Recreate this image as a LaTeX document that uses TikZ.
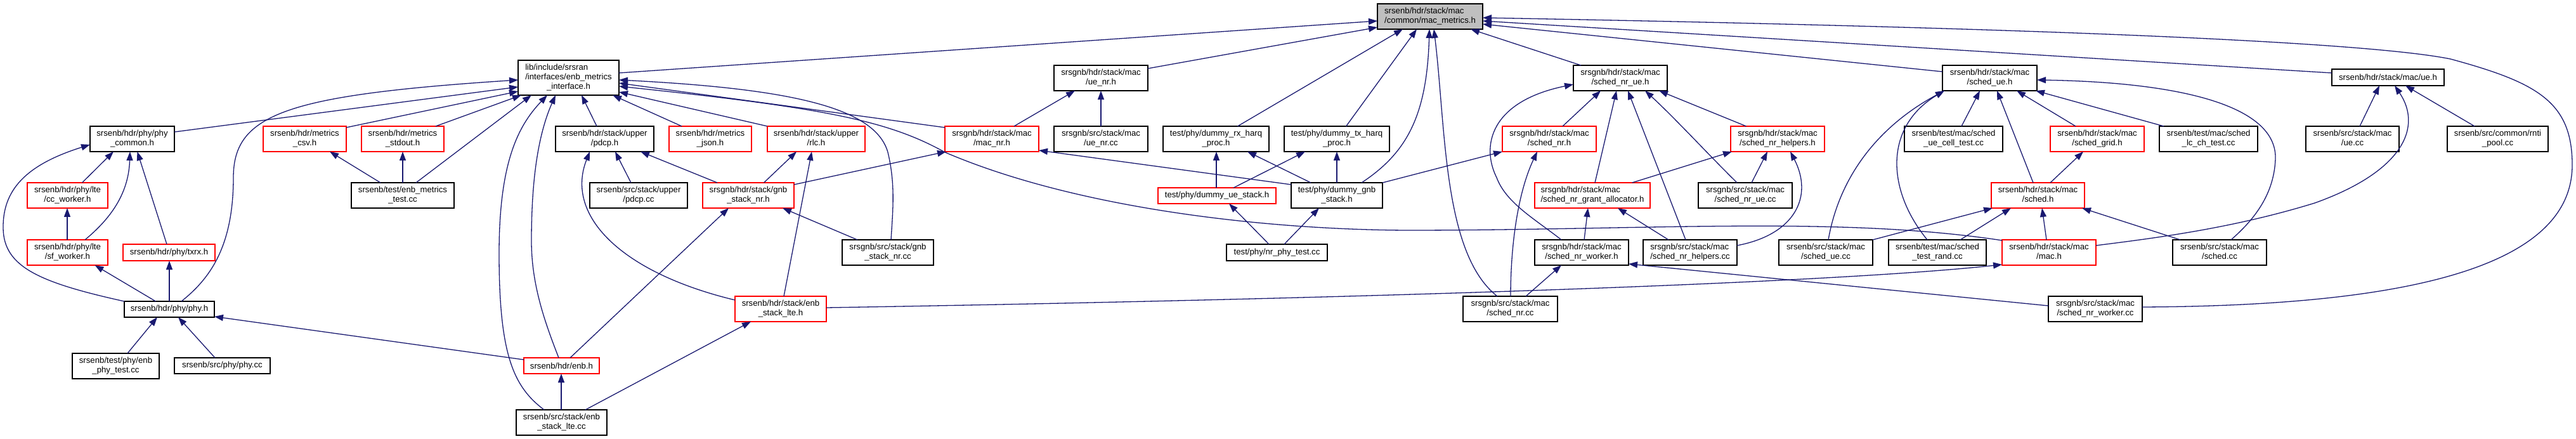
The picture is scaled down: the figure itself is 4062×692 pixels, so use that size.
\documentclass[tikz,border=0pt]{standalone}
\usepackage{fontspec}
\setmainfont{Liberation Sans}
\usetikzlibrary{arrows.meta}
\definecolor{edgeblue}{RGB}{25,25,112}
\definecolor{boxred}{RGB}{255,0,0}
\definecolor{rootgray}{RGB}{191,191,191}
\newcommand\twol[2]{\begin{tabular}{@{}l@{}}#1\\\multicolumn{1}{@{}c@{}}{#2}\end{tabular}}
\tikzset{
  box/.style={draw=black, fill=white, line width=1.6pt, rectangle, inner sep=0pt, outer sep=0pt, font=\fontsize{13.2}{15}\selectfont, text=black},
  redbox/.style={box, draw=boxred},
  rootbox/.style={box, fill=rootgray},
  dep/.style={draw=edgeblue, color=edgeblue, line width=1.3pt, {Triangle[length=14pt,width=10pt]}-},
}
\begin{document}
\begin{tikzpicture}[x=1pt,y=-1pt]
\fill[white] (0,0) rectangle (4062,692);
\useasboundingbox (0,0) rectangle (4062,692);
% row 0
\node[rootbox,minimum width=166pt,minimum height=40pt] (R) at (2255,26) {\twol{srsenb/hdr/stack/mac}{/common/mac\_metrics.h}};
% row 1
\node[box,minimum width=159pt,minimum height=55pt] (EMI) at (896.5,122.5) {\begin{tabular}{@{}l@{}}lib/include/srsran\\/interfaces/enb\_metrics\\\multicolumn{1}{@{}c@{}}{\_interface.h}\end{tabular}};
\node[box,minimum width=148pt,minimum height=40pt] (uenrh) at (1736,123) {\twol{srsgnb/hdr/stack/mac}{/ue\_nr.h}};
\node[box,minimum width=148pt,minimum height=40pt] (schednrueh) at (2555,123) {\twol{srsgnb/hdr/stack/mac}{/sched\_nr\_ue.h}};
\node[box,minimum width=149pt,minimum height=40pt] (schedueh) at (3137.5,123) {\twol{srsenb/hdr/stack/mac}{/sched\_ue.h}};
\node[box,minimum width=177pt,minimum height=26pt] (ueh) at (3765.5,122) {srsenb/hdr/stack/mac/ue.h};
% row 2
\node[box,minimum width=133pt,minimum height=40pt] (phycommon) at (208.5,219) {\twol{srsenb/hdr/phy/phy}{\_common.h}};
\node[redbox,minimum width=131pt,minimum height=40pt] (csv) at (480.5,219) {\twol{srsenb/hdr/metrics}{\_csv.h}};
\node[redbox,minimum width=130pt,minimum height=40pt] (stdout) at (635,219) {\twol{srsenb/hdr/metrics}{\_stdout.h}};
\node[box,minimum width=155pt,minimum height=40pt] (pdcph) at (953.5,219) {\twol{srsenb/hdr/stack/upper}{/pdcp.h}};
\node[redbox,minimum width=130pt,minimum height=40pt] (json) at (1120,219) {\twol{srsenb/hdr/metrics}{\_json.h}};
\node[redbox,minimum width=154pt,minimum height=40pt] (rlch) at (1287,219) {\twol{srsenb/hdr/stack/upper}{/rlc.h}};
\node[redbox,minimum width=148pt,minimum height=40pt] (macnrh) at (1564,219) {\twol{srsgnb/hdr/stack/mac}{/mac\_nr.h}};
\node[box,minimum width=148pt,minimum height=40pt] (uenrcc) at (1736,219) {\twol{srsgnb/src/stack/mac}{/ue\_nr.cc}};
\node[box,minimum width=167pt,minimum height=40pt] (rxharq) at (1917.5,219) {\twol{test/phy/dummy\_rx\_harq}{\_proc.h}};
\node[box,minimum width=166pt,minimum height=40pt] (txharq) at (2108,219) {\twol{test/phy/dummy\_tx\_harq}{\_proc.h}};
\node[redbox,minimum width=148pt,minimum height=40pt] (schednrh) at (2443,219) {\twol{srsgnb/hdr/stack/mac}{/sched\_nr.h}};
\node[redbox,minimum width=148pt,minimum height=40pt] (helpersh) at (2803,219) {\twol{srsgnb/hdr/stack/mac}{/sched\_nr\_helpers.h}};
\node[box,minimum width=155pt,minimum height=40pt] (celltest) at (3080.5,219) {\twol{srsenb/test/mac/sched}{\_ue\_cell\_test.cc}};
\node[redbox,minimum width=148pt,minimum height=40pt] (gridh) at (3307,219) {\twol{srsenb/hdr/stack/mac}{/sched\_grid.h}};
\node[box,minimum width=155pt,minimum height=40pt] (lcch) at (3482.5,219) {\twol{srsenb/test/mac/sched}{\_lc\_ch\_test.cc}};
\node[box,minimum width=147pt,minimum height=40pt] (uecc) at (3709.5,219) {\twol{srsenb/src/stack/mac}{/ue.cc}};
\node[box,minimum width=159pt,minimum height=40pt] (rnti) at (3938.5,219) {\twol{srsenb/src/common/rnti}{\_pool.cc}};
% row 3
\node[redbox,minimum width=127pt,minimum height=40pt] (ccworker) at (106.5,308) {\twol{srsenb/hdr/phy/lte}{/cc\_worker.h}};
\node[box,minimum width=162pt,minimum height=40pt] (metricstest) at (635,308) {\twol{srsenb/test/enb\_metrics}{\_test.cc}};
\node[box,minimum width=154pt,minimum height=40pt] (pdcpcc) at (1007,308) {\twol{srsenb/src/stack/upper}{/pdcp.cc}};
\node[redbox,minimum width=144pt,minimum height=40pt] (gnbstackh) at (1180,308) {\twol{srsgnb/hdr/stack/gnb}{\_stack\_nr.h}};
\node[redbox,minimum width=186pt,minimum height=25pt] (dummyue) at (1919,308.5) {test/phy/dummy\_ue\_stack.h};
\node[box,minimum width=144pt,minimum height=40pt] (dummygnb) at (2108,308) {\twol{test/phy/dummy\_gnb}{\_stack.h}};
\node[redbox,minimum width=182pt,minimum height=40pt] (grantalloc) at (2511,308) {\twol{srsgnb/hdr/stack/mac}{/sched\_nr\_grant\_allocator.h}};
\node[box,minimum width=148pt,minimum height=40pt] (schednruecc) at (2752,308) {\twol{srsgnb/src/stack/mac}{/sched\_nr\_ue.cc}};
\node[redbox,minimum width=147pt,minimum height=40pt] (schedh) at (3213.5,308) {\twol{srsenb/hdr/stack/mac}{/sched.h}};
% row 4
\node[redbox,minimum width=127pt,minimum height=40pt] (sfworker) at (106.5,398) {\twol{srsenb/hdr/phy/lte}{/sf\_worker.h}};
\node[redbox,minimum width=145pt,minimum height=26pt] (txrx) at (266.5,398) {srsenb/hdr/phy/txrx.h};
\node[box,minimum width=144pt,minimum height=40pt] (gnbstackcc) at (1400,398) {\twol{srsgnb/src/stack/gnb}{\_stack\_nr.cc}};
\node[box,minimum width=159pt,minimum height=26pt] (nrphytest) at (2013.5,398) {test/phy/nr\_phy\_test.cc};
\node[box,minimum width=148pt,minimum height=40pt] (workerh) at (2494,398) {\twol{srsgnb/hdr/stack/mac}{/sched\_nr\_worker.h}};
\node[box,minimum width=148pt,minimum height=40pt] (helperscc) at (2665,398) {\twol{srsgnb/src/stack/mac}{/sched\_nr\_helpers.cc}};
\node[box,minimum width=148pt,minimum height=40pt] (schedue) at (2879,398) {\twol{srsenb/src/stack/mac}{/sched\_ue.cc}};
\node[box,minimum width=154pt,minimum height=40pt] (testrand) at (3055,398) {\twol{srsenb/test/mac/sched}{\_test\_rand.cc}};
\node[redbox,minimum width=148pt,minimum height=40pt] (mach) at (3231,398) {\twol{srsenb/hdr/stack/mac}{/mac.h}};
\node[box,minimum width=148pt,minimum height=40pt] (schedcc) at (3500,398) {\twol{srsenb/src/stack/mac}{/sched.cc}};
% row 5
\node[box,minimum width=142pt,minimum height=25pt] (phyh) at (267,487.5) {srsenb/hdr/phy/phy.h};
\node[redbox,minimum width=144pt,minimum height=40pt] (enbstacklteh) at (1231,487) {\twol{srsenb/hdr/stack/enb}{\_stack\_lte.h}};
\node[box,minimum width=149pt,minimum height=40pt] (schednrcc) at (2381.5,487) {\twol{srsgnb/src/stack/mac}{/sched\_nr.cc}};
\node[box,minimum width=148pt,minimum height=40pt] (workercc) at (3304,487) {\twol{srsgnb/src/stack/mac}{/sched\_nr\_worker.cc}};
% row 6
\node[box,minimum width=137pt,minimum height=40pt] (enbphytest) at (182.5,577) {\twol{srsenb/test/phy/enb}{\_phy\_test.cc}};
\node[box,minimum width=151pt,minimum height=25pt] (phycc) at (350.5,576.5) {srsenb/src/phy/phy.cc};
\node[redbox,minimum width=119pt,minimum height=25pt] (enbh) at (885.5,576.5) {srsenb/hdr/enb.h};
% row 7
\node[box,minimum width=143pt,minimum height=40pt] (enbltecc) at (885.5,666) {\twol{srsenb/src/stack/enb}{\_stack\_lte.cc}};

% ---- edges (arrow at the included file)
\draw[dep] ([yshift=-27pt]R.north west) -- ([xshift=159pt,yshift=-20pt]EMI.north west);
\draw[dep] ([yshift=-37pt]R.north west) -- ([xshift=148pt,yshift=-5pt]uenrh.north west);
\draw[dep] ([xshift=40pt,yshift=-40pt]R.north west) -- ([xshift=117.5pt]rxharq.north west);
\draw[dep] ([xshift=62pt,yshift=-40pt]R.north west) -- ([xshift=97.6pt]txharq.north west);
\draw[dep] ([xshift=82pt,yshift=-40pt]R.north west) .. controls (2250,180) and (2220,240) .. ([xshift=111pt]dummygnb.north west);
\draw[dep] ([xshift=89pt,yshift=-40pt]R.north west) .. controls (2280,200) and (2275,400) .. ([xshift=54pt]schednrcc.north west);
\draw[dep] ([xshift=147pt,yshift=-40pt]R.north west) -- ([xshift=12pt]schednrueh.north west);
\draw[dep] ([xshift=166pt,yshift=-22pt]R.north west) .. controls (3000,40) and (3700,60) .. (3864,93) .. controls (4000,130) and (4056,160) .. (4056,260) .. controls (4056,420) and (3800,482) .. ([xshift=148pt,yshift=-17pt]workercc.north west);
\draw[dep] ([xshift=166pt,yshift=-27pt]R.north west) -- ([yshift=-6pt]ueh.north west);
\draw[dep] ([xshift=166pt,yshift=-32pt]R.north west) -- ([yshift=-10pt]schedueh.north west);

\draw[dep] ([yshift=-31pt]EMI.north west) .. controls (450,150) and (368,180) .. (368,280) .. controls (368,390) and (330,440) .. ([xshift=90pt]phyh.north west);
\draw[dep] ([yshift=-42pt]EMI.north west) -- ([xshift=133pt,yshift=-9pt]phycommon.north west);
\draw[dep] ([yshift=-49pt]EMI.north west) -- ([xshift=131pt,yshift=-2pt]csv.north west);
\draw[dep] ([xshift=5pt,yshift=-55pt]EMI.north west) -- ([xshift=117pt]stdout.north west);
\draw[dep] ([xshift=21pt,yshift=-55pt]EMI.north west) -- ([xshift=102pt]metricstest.north west);
\draw[dep] ([xshift=46pt,yshift=-55pt]EMI.north west) .. controls (815,200) and (787,260) .. (787,400) .. controls (787,560) and (810,610) .. ([xshift=44pt]enbltecc.north west);
\draw[dep] ([xshift=59pt,yshift=-55pt]EMI.north west) .. controls (845,220) and (838,300) .. (838,380) .. controls (838,450) and (860,510) .. ([xshift=55pt]enbh.north west);
\draw[dep] ([xshift=100pt,yshift=-55pt]EMI.north west) -- ([xshift=65pt]pdcph.north west);
\draw[dep] ([xshift=149pt,yshift=-55pt]EMI.north west) -- ([xshift=20pt]json.north west);
\draw[dep] ([xshift=159pt,yshift=-50pt]EMI.north west) -- (rlch.north west);
\draw[dep] ([xshift=159pt,yshift=-36pt]EMI.north west) -- ([yshift=-2pt]macnrh.north west);
\draw[dep] ([xshift=159pt,yshift=-31pt]EMI.north west) .. controls (1250,140) and (1380,170) .. (1400,240) .. controls (1412,290) and (1408,330) .. ([xshift=77pt]gnbstackcc.north west);
\draw[dep] ([xshift=159pt,yshift=-41pt]EMI.north west) .. controls (1300,170) and (1400,190) .. (1490,240) .. controls (1700,330) and (2000,362) .. (2218,363) .. controls (2600,363) and (2900,340) .. ([yshift=-1pt]mach.north west);

\draw[dep] ([xshift=37pt,yshift=-40pt]phycommon.north west) -- ([xshift=86.5pt]ccworker.north west);
\draw[dep] ([xshift=63pt,yshift=-40pt]phycommon.north west) .. controls (203,300) and (180,340) .. ([xshift=91pt]sfworker.north west);
\draw[dep] ([xshift=74.5pt,yshift=-40pt]phycommon.north west) -- ([xshift=69pt]txrx.north west);
\draw[dep] ([yshift=-29pt]phycommon.north west) .. controls (40,260) and (4,300) .. (5,360) .. controls (6,420) and (60,445) .. (phyh.north west);
\draw[dep] ([xshift=63pt,yshift=-40pt]ccworker.north west) -- ([xshift=63pt]sfworker.north west);
\draw[dep] ([xshift=106.5pt,yshift=-40pt]sfworker.north west) -- ([xshift=49.5pt]phyh.north west);
\draw[dep] ([xshift=73pt,yshift=-26pt]txrx.north west) -- ([xshift=71pt]phyh.north west);
\draw[dep] ([xshift=52pt,yshift=-25pt]phyh.north west) -- ([xshift=87pt]enbphytest.north west);
\draw[dep] ([xshift=85pt,yshift=-25pt]phyh.north west) -- ([xshift=64pt]phycc.north west);
\draw[dep] ([xshift=142pt,yshift=-24pt]phyh.north west) -- ([yshift=-3pt]enbh.north west);
\draw[dep] ([xshift=105pt,yshift=-40pt]csv.north west) -- ([xshift=46pt]metricstest.north west);
\draw[dep] ([xshift=65pt,yshift=-40pt]stdout.north west) -- ([xshift=81pt]metricstest.north west);

\draw[dep] ([xshift=54pt,yshift=-40pt]pdcph.north west) .. controls (890,340) and (980,430) .. ([yshift=-6pt]enbstacklteh.north west);
\draw[dep] ([xshift=94pt,yshift=-40pt]pdcph.north west) -- ([xshift=65pt]pdcpcc.north west);
\draw[dep] ([xshift=134pt,yshift=-40pt]pdcph.north west) -- ([xshift=23pt]gnbstackh.north west);
\draw[dep] ([xshift=46pt,yshift=-40pt]rlch.north west) -- ([xshift=96.5pt]gnbstackh.north west);
\draw[dep] ([xshift=70pt,yshift=-40pt]rlch.north west) -- ([xshift=77pt]enbstacklteh.north west);
\draw[dep] ([xshift=41pt,yshift=-40pt]gnbstackh.north west) -- ([xshift=73pt]enbh.north west);
\draw[dep] ([xshift=126pt,yshift=-40pt]gnbstackh.north west) -- ([xshift=24pt]gnbstackcc.north west);
\draw[dep] ([xshift=2pt,yshift=-40pt]macnrh.north west) -- ([xshift=144pt,yshift=-3pt]gnbstackh.north west);
\draw[dep] ([xshift=148pt,yshift=-38pt]macnrh.north west) -- ([yshift=-3pt]dummygnb.north west);
\draw[dep] ([xshift=33pt,yshift=-40pt]uenrh.north west) -- ([xshift=109pt]macnrh.north west);
\draw[dep] ([xshift=74pt,yshift=-40pt]uenrh.north west) -- ([xshift=74pt]uenrcc.north west);

\draw[dep] ([xshift=84pt,yshift=-40pt]rxharq.north west) -- ([xshift=92pt]dummyue.north west);
\draw[dep] ([xshift=133pt,yshift=-40pt]rxharq.north west) -- ([xshift=31pt]dummygnb.north west);
\draw[dep] ([xshift=33pt,yshift=-40pt]txharq.north west) -- ([xshift=119pt]dummyue.north west);
\draw[dep] ([xshift=83pt,yshift=-40pt]txharq.north west) -- ([xshift=72pt]dummygnb.north west);
\draw[dep] ([xshift=112pt,yshift=-25pt]dummyue.north west) -- ([xshift=67pt]nrphytest.north west);
\draw[dep] ([xshift=44pt,yshift=-40pt]dummygnb.north west) -- ([xshift=91pt]nrphytest.north west);

\draw[dep] ([yshift=-40pt]schednrh.north west) -- ([xshift=144pt]dummygnb.north west);
\draw[dep] ([xshift=55pt,yshift=-40pt]schednrh.north west) .. controls (2395,300) and (2382,380) .. ([xshift=75pt]schednrcc.north west);
\draw[dep] ([yshift=-30pt]schednrueh.north west) .. controls (2350,160) and (2335,230) .. (2360,280) .. controls (2375,320) and (2420,345) .. ([xshift=42pt]workerh.north west);
\draw[dep] ([xshift=43pt,yshift=-40pt]schednrueh.north west) -- ([xshift=95pt]schednrh.north west);
\draw[dep] ([xshift=68pt,yshift=-40pt]schednrueh.north west) -- ([xshift=95pt]grantalloc.north west);
\draw[dep] ([xshift=86pt,yshift=-40pt]schednrueh.north west) -- ([xshift=67pt]helperscc.north west);
\draw[dep] ([xshift=113pt,yshift=-40pt]schednrueh.north west) .. controls (2640,185) and (2700,250) .. ([xshift=61pt]schednruecc.north west);
\draw[dep] ([xshift=135pt,yshift=-40pt]schednrueh.north west) -- ([xshift=24.5pt]helpersh.north west);
\draw[dep] ([xshift=2pt,yshift=-40pt]helpersh.north west) -- ([xshift=153.5pt]grantalloc.north west);
\draw[dep] ([xshift=58pt,yshift=-40pt]helpersh.north west) -- ([xshift=84pt]schednruecc.north west);
\draw[dep] ([xshift=94pt,yshift=-40pt]helpersh.north west) .. controls (2860,310) and (2830,370) .. ([xshift=148pt,yshift=-9pt]helperscc.north west);
\draw[dep] ([xshift=84pt,yshift=-40pt]grantalloc.north west) -- ([xshift=78pt]workerh.north west);
\draw[dep] ([xshift=131pt,yshift=-40pt]grantalloc.north west) -- ([xshift=40pt]helperscc.north west);
\draw[dep] ([xshift=42pt,yshift=-40pt]workerh.north west) -- ([xshift=99pt]schednrcc.north west);
\draw[dep] ([xshift=148pt,yshift=-38pt]workerh.north west) -- ([yshift=-15pt]workercc.north west);

\draw[dep] ([xshift=3pt,yshift=-40pt]schedueh.north west) .. controls (2960,200) and (2900,280) .. ([xshift=78pt]schedue.north west);
\draw[dep] ([xshift=3pt,yshift=-40pt]schedueh.north west) .. controls (2970,200) and (2975,300) .. ([xshift=61pt]testrand.north west);
\draw[dep] ([xshift=59pt,yshift=-40pt]schedueh.north west) -- ([xshift=90pt]celltest.north west);
\draw[dep] ([xshift=86pt,yshift=-40pt]schedueh.north west) -- ([xshift=66pt]schedh.north west);
\draw[dep] ([xshift=117pt,yshift=-40pt]schedueh.north west) -- ([xshift=40pt]gridh.north west);
\draw[dep] ([xshift=147pt,yshift=-40pt]schedueh.north west) -- ([xshift=7pt]lcch.north west);
\draw[dep] ([xshift=149pt,yshift=-23pt]schedueh.north west) .. controls (3450,130) and (3590,170) .. (3588,250) .. controls (3586,310) and (3550,350) .. ([xshift=92pt]schedcc.north west);
\draw[dep] ([xshift=52pt,yshift=-40pt]gridh.north west) -- ([xshift=93pt]schedh.north west);
\draw[dep] ([xshift=2pt,yshift=-40pt]schedh.north west) -- ([xshift=148pt]schedue.north west);
\draw[dep] ([xshift=31pt,yshift=-40pt]schedh.north west) -- ([xshift=113pt]testrand.north west);
\draw[dep] ([xshift=80pt,yshift=-40pt]schedh.north west) -- ([xshift=70pt]mach.north west);
\draw[dep] ([xshift=143pt,yshift=-40pt]schedh.north west) -- ([xshift=12pt]schedcc.north west);
\draw[dep] ([xshift=75pt,yshift=-26pt]ueh.north west) -- ([xshift=85pt]uecc.north west);
\draw[dep] ([xshift=99pt,yshift=-26pt]ueh.north west) .. controls (3820,200) and (3790,270) .. (3650,320) .. controls (3520,360) and (3400,375) .. ([xshift=148pt,yshift=-9pt]mach.north west);
\draw[dep] ([xshift=116pt,yshift=-26pt]ueh.north west) -- ([xshift=43pt]rnti.north west);
\draw[dep] ([yshift=-39pt]mach.north west) .. controls (2900,445) and (2200,470) .. ([xshift=144pt,yshift=-18pt]enbstacklteh.north west);
\draw[dep] ([xshift=59pt,yshift=-25pt]enbh.north west) -- ([xshift=71pt]enbltecc.north west);
\draw[dep] ([xshift=25pt,yshift=-40pt]enbstacklteh.north west) -- ([xshift=109pt]enbltecc.north west);
\end{tikzpicture}
\end{document}
